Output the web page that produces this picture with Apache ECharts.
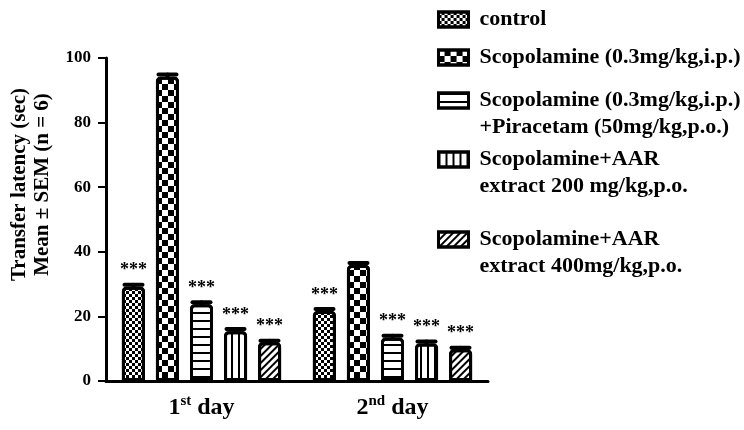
<!DOCTYPE html>
<html>
<head>
<meta charset="utf-8">
<script src="https://cdn.jsdelivr.net/npm/echarts@6/dist/echarts.min.js"></script>
<style>
  html, body { margin: 0; padding: 0; background: #fff; }
  #chart { width: 744px; height: 430px; }
</style>
</head>
<body>
<div id="chart"></div>
<script>
// data
const days = ['1st day', '2nd day'];
const groups = [
  'control',
  'Scopolamine (0.3mg/kg,i.p.)',
  'Scopolamine (0.3mg/kg,i.p.)\n+Piracetam (50mg/kg,p.o.)',
  'Scopolamine+AAR\nextract 200 mg/kg,p.o.',
  'Scopolamine+AAR\nextract 400mg/kg,p.o.'
];
const controlVals = [29.2, 21.7];
const scopVals = [94.2, 35.9];
const piracVals = [23.8, 13.4];
const aar200Vals = [15.4, 11.6];
const aar400Vals = [12.0, 9.8];
const semVals = [
  [0.6, 0.6],
  [0.7, 0.6],
  [0.6, 0.6],
  [0.7, 0.6],
  [0.5, 0.5]
];
const sigMarks = [
  ['***', '***'],
  ['', ''],
  ['***', '***'],
  ['***', '***'],
  ['***', '***']
];
const yTicks = [0, 20, 40, 60, 80, 100];

const allVals = [controlVals, scopVals, piracVals, aar200Vals, aar400Vals];
const FONT = 'Liberation Serif';
const BAR_W = 23;
const PITCH = 34;

// fill patterns
const decals = [
  { symbol: 'rect', symbolSize: 1, dashArrayX: [[3, 3], [0, 3, 3, 0]], dashArrayY: [3, 0], color: '#000' },
  { symbol: 'rect', symbolSize: 1, dashArrayX: [[6, 6], [0, 6, 6, 0]], dashArrayY: [6, 0], color: '#000' },
  { symbol: 'rect', symbolSize: 1, dashArrayX: [1, 0], dashArrayY: [2, 6], color: '#000' },
  { symbol: 'rect', symbolSize: 1, dashArrayX: [2, 5], dashArrayY: [1, 0], color: '#000' },
  { symbol: 'rect', symbolSize: 1, dashArrayX: [2, 3], dashArrayY: [1, 0], rotation: Math.PI / 4, color: '#000' }
];

const barSeries = groups.map((name, i) => ({
  name: name,
  type: 'bar',
  data: allVals[i],
  barWidth: BAR_W,
  barGap: '48%',
  itemStyle: {
    color: '#fff',
    borderColor: '#000',
    borderWidth: 3,
    borderRadius: [3, 3, 0, 0],
    decal: decals[i]
  },
  label: {
    show: true,
    position: 'top',
    distance: 7,
    color: '#000',
    fontFamily: FONT,
    fontWeight: 'bold',
    fontSize: 18,
    formatter: p => sigMarks[i][p.dataIndex]
  }
}));

// error bar caps
const errData = [];
allVals.forEach((vals, s) => {
  vals.forEach((v, c) => errData.push([c, v, semVals[s][c], s]));
});

const errSeries = {
  type: 'custom',
  z: 5,
  silent: true,
  data: errData,
  encode: { x: 0, y: 1 },
  renderItem: function (params, api) {
    const c = api.value(0), v = api.value(1), e = api.value(2), s = api.value(3);
    const off = (s - 2) * PITCH;
    const p0 = api.coord([c, v]);
    const p1 = api.coord([c, v + e]);
    const x = p0[0] + off;
    const st = { stroke: '#000', lineWidth: 4, lineCap: 'round' };
    return {
      type: 'group',
      children: [
        { type: 'line', shape: { x1: x, y1: p0[1], x2: x, y2: p1[1] }, style: st },
        { type: 'line', shape: { x1: x - 9, y1: p1[1], x2: x + 9, y2: p1[1] }, style: st }
      ]
    };
  }
};

// two-line entries get a blank first line so the icon sits on the first real line
const legendTops = [6, 44, 60, 119, 199];
const legends = groups.map((name, i) => ({
  orient: 'vertical',
  left: 437,
  top: legendTops[i],
  padding: 0,
  itemWidth: 30,
  itemHeight: 15,
  icon: 'rect',
  selectedMode: false,
  data: [name],
  formatter: n => (n.indexOf('\n') >= 0 ? ' \n' + n : n),
  itemStyle: { borderColor: '#000', borderWidth: 3 },
  textStyle: {
    color: '#000',
    fontFamily: FONT,
    fontWeight: 'bold',
    fontSize: 22,
    lineHeight: 27,
    padding: [0, 0, 0, 6]
  }
}));

const chart = echarts.init(document.getElementById('chart'), null, { renderer: 'canvas' });
chart.setOption({
  animation: false,
  backgroundColor: '#fff',
  legend: legends,
  grid: { left: 105, right: 256, top: 58, bottom: 49 },
  xAxis: {
    type: 'category',
    data: days,
    axisLine: { lineStyle: { color: '#000', width: 3 } },
    axisTick: { alignWithLabel: true, length: 7, lineStyle: { color: '#000', width: 2 } },
    axisLabel: {
      margin: 13,
      formatter: function (v) {
        const m = v.match(/^(\d)(\w+) (.*)$/);
        return '{n|' + m[1] + '}{s|' + m[2] + '}{n| ' + m[3] + '}';
      },
      rich: {
        n: { fontFamily: FONT, fontWeight: 'bold', fontSize: 24, color: '#000', lineHeight: 28 },
        s: { fontFamily: FONT, fontWeight: 'bold', fontSize: 15, color: '#000', verticalAlign: 'top', lineHeight: 28 }
      }
    }
  },
  yAxis: {
    type: 'value',
    min: 0,
    max: 100,
    interval: 20,
    name: 'Transfer latency (sec)\nMean ± SEM (n = 6)',
    nameLocation: 'middle',
    nameGap: 52,
    nameRotate: 90,
    nameTextStyle: {
      fontFamily: FONT,
      fontWeight: 'bold',
      fontSize: 21,
      color: '#000',
      lineHeight: 23,
      padding: [0, 0, 0, 70]
    },
    splitLine: { show: false },
    axisLine: { show: true, lineStyle: { color: '#000', width: 3 } },
    axisTick: { show: true, length: 8, lineStyle: { color: '#000', width: 2 } },
    axisLabel: {
      margin: 15,
      color: '#000',
      fontFamily: FONT,
      fontWeight: 'bold',
      fontSize: 17,
      formatter: v => (yTicks.indexOf(v) >= 0 ? String(v) : '')
    }
  },
  series: barSeries.concat([errSeries])
});
</script>
</body>
</html>
